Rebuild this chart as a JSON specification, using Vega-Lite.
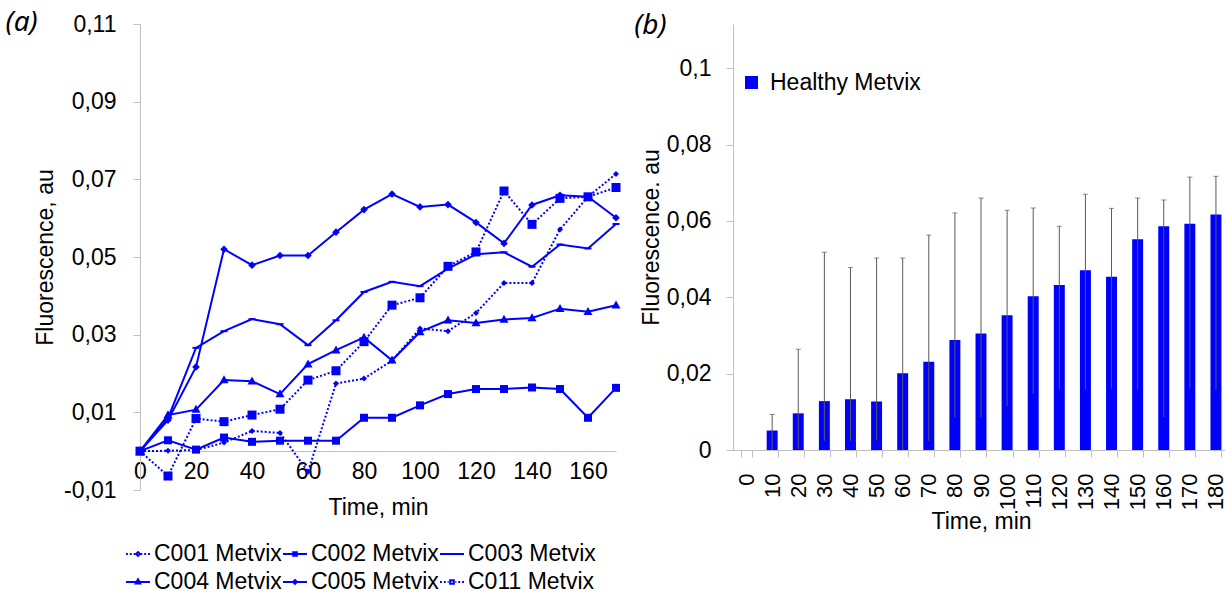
{
  "$schema": "https://vega.github.io/schema/vega-lite/v6.json",
  "padding": {"left": 5, "top": 9, "right": 0, "bottom": 0},
  "bounds": "flush",
  "spacing": 117,
  "datasets": {
    "lines": [
      {"series": "C001 Metvix", "time": 0, "value": 0},
      {"series": "C001 Metvix", "time": 10, "value": 0.0001},
      {"series": "C001 Metvix", "time": 20, "value": 0.0003},
      {"series": "C001 Metvix", "time": 30, "value": 0.0022},
      {"series": "C001 Metvix", "time": 40, "value": 0.0052},
      {"series": "C001 Metvix", "time": 50, "value": 0.0047},
      {"series": "C001 Metvix", "time": 60, "value": -0.0053},
      {"series": "C001 Metvix", "time": 70, "value": 0.0174},
      {"series": "C001 Metvix", "time": 80, "value": 0.0187},
      {"series": "C001 Metvix", "time": 90, "value": 0.0233},
      {"series": "C001 Metvix", "time": 100, "value": 0.0316},
      {"series": "C001 Metvix", "time": 110, "value": 0.0309},
      {"series": "C001 Metvix", "time": 120, "value": 0.0356},
      {"series": "C001 Metvix", "time": 130, "value": 0.0433},
      {"series": "C001 Metvix", "time": 140, "value": 0.0433},
      {"series": "C001 Metvix", "time": 150, "value": 0.0571},
      {"series": "C001 Metvix", "time": 160, "value": 0.0655},
      {"series": "C001 Metvix", "time": 170, "value": 0.0714},
      {"series": "C002 Metvix", "time": 0, "value": 0},
      {"series": "C002 Metvix", "time": 10, "value": 0.0028},
      {"series": "C002 Metvix", "time": 20, "value": 0.0004},
      {"series": "C002 Metvix", "time": 30, "value": 0.0035},
      {"series": "C002 Metvix", "time": 40, "value": 0.0024},
      {"series": "C002 Metvix", "time": 50, "value": 0.0027},
      {"series": "C002 Metvix", "time": 60, "value": 0.0027},
      {"series": "C002 Metvix", "time": 70, "value": 0.0027},
      {"series": "C002 Metvix", "time": 80, "value": 0.0086},
      {"series": "C002 Metvix", "time": 90, "value": 0.0086},
      {"series": "C002 Metvix", "time": 100, "value": 0.0118},
      {"series": "C002 Metvix", "time": 110, "value": 0.0147},
      {"series": "C002 Metvix", "time": 120, "value": 0.016},
      {"series": "C002 Metvix", "time": 130, "value": 0.016},
      {"series": "C002 Metvix", "time": 140, "value": 0.0164},
      {"series": "C002 Metvix", "time": 150, "value": 0.016},
      {"series": "C002 Metvix", "time": 160, "value": 0.0086},
      {"series": "C002 Metvix", "time": 170, "value": 0.0163},
      {"series": "C003 Metvix", "time": 0, "value": 0},
      {"series": "C003 Metvix", "time": 10, "value": 0.0085},
      {"series": "C003 Metvix", "time": 20, "value": 0.0266},
      {"series": "C003 Metvix", "time": 30, "value": 0.0309},
      {"series": "C003 Metvix", "time": 40, "value": 0.034},
      {"series": "C003 Metvix", "time": 50, "value": 0.0327},
      {"series": "C003 Metvix", "time": 60, "value": 0.0273},
      {"series": "C003 Metvix", "time": 70, "value": 0.0337},
      {"series": "C003 Metvix", "time": 80, "value": 0.041},
      {"series": "C003 Metvix", "time": 90, "value": 0.0436},
      {"series": "C003 Metvix", "time": 100, "value": 0.0425},
      {"series": "C003 Metvix", "time": 110, "value": 0.047},
      {"series": "C003 Metvix", "time": 120, "value": 0.0507},
      {"series": "C003 Metvix", "time": 130, "value": 0.0512},
      {"series": "C003 Metvix", "time": 140, "value": 0.0475},
      {"series": "C003 Metvix", "time": 150, "value": 0.0532},
      {"series": "C003 Metvix", "time": 160, "value": 0.0522},
      {"series": "C003 Metvix", "time": 170, "value": 0.0585},
      {"series": "C004 Metvix", "time": 0, "value": 0},
      {"series": "C004 Metvix", "time": 10, "value": 0.0093},
      {"series": "C004 Metvix", "time": 20, "value": 0.0107},
      {"series": "C004 Metvix", "time": 30, "value": 0.0183},
      {"series": "C004 Metvix", "time": 40, "value": 0.018},
      {"series": "C004 Metvix", "time": 50, "value": 0.0147},
      {"series": "C004 Metvix", "time": 60, "value": 0.0224},
      {"series": "C004 Metvix", "time": 70, "value": 0.026},
      {"series": "C004 Metvix", "time": 80, "value": 0.0293},
      {"series": "C004 Metvix", "time": 90, "value": 0.0234},
      {"series": "C004 Metvix", "time": 100, "value": 0.0307},
      {"series": "C004 Metvix", "time": 110, "value": 0.0337},
      {"series": "C004 Metvix", "time": 120, "value": 0.033},
      {"series": "C004 Metvix", "time": 130, "value": 0.0339},
      {"series": "C004 Metvix", "time": 140, "value": 0.0343},
      {"series": "C004 Metvix", "time": 150, "value": 0.0367},
      {"series": "C004 Metvix", "time": 160, "value": 0.0359},
      {"series": "C004 Metvix", "time": 170, "value": 0.0376},
      {"series": "C005 Metvix", "time": 0, "value": 0},
      {"series": "C005 Metvix", "time": 10, "value": 0.008},
      {"series": "C005 Metvix", "time": 20, "value": 0.0217},
      {"series": "C005 Metvix", "time": 30, "value": 0.052},
      {"series": "C005 Metvix", "time": 40, "value": 0.0479},
      {"series": "C005 Metvix", "time": 50, "value": 0.0504},
      {"series": "C005 Metvix", "time": 60, "value": 0.0504},
      {"series": "C005 Metvix", "time": 70, "value": 0.0564},
      {"series": "C005 Metvix", "time": 80, "value": 0.0622},
      {"series": "C005 Metvix", "time": 90, "value": 0.0662},
      {"series": "C005 Metvix", "time": 100, "value": 0.0629},
      {"series": "C005 Metvix", "time": 110, "value": 0.0635},
      {"series": "C005 Metvix", "time": 120, "value": 0.0589},
      {"series": "C005 Metvix", "time": 130, "value": 0.0535},
      {"series": "C005 Metvix", "time": 140, "value": 0.0634},
      {"series": "C005 Metvix", "time": 150, "value": 0.0659},
      {"series": "C005 Metvix", "time": 160, "value": 0.0655},
      {"series": "C005 Metvix", "time": 170, "value": 0.0601},
      {"series": "C011 Metvix", "time": 0, "value": 0},
      {"series": "C011 Metvix", "time": 10, "value": -0.0064},
      {"series": "C011 Metvix", "time": 20, "value": 0.0084},
      {"series": "C011 Metvix", "time": 30, "value": 0.0076},
      {"series": "C011 Metvix", "time": 40, "value": 0.0093},
      {"series": "C011 Metvix", "time": 50, "value": 0.0108},
      {"series": "C011 Metvix", "time": 60, "value": 0.0183},
      {"series": "C011 Metvix", "time": 70, "value": 0.0207},
      {"series": "C011 Metvix", "time": 80, "value": 0.0282},
      {"series": "C011 Metvix", "time": 90, "value": 0.0376},
      {"series": "C011 Metvix", "time": 100, "value": 0.0395},
      {"series": "C011 Metvix", "time": 110, "value": 0.0476},
      {"series": "C011 Metvix", "time": 120, "value": 0.0513},
      {"series": "C011 Metvix", "time": 130, "value": 0.067},
      {"series": "C011 Metvix", "time": 140, "value": 0.0584},
      {"series": "C011 Metvix", "time": 150, "value": 0.0651},
      {"series": "C011 Metvix", "time": 160, "value": 0.0655},
      {"series": "C011 Metvix", "time": 170, "value": 0.0679}
    ],
    "bars": [
      {"time": 0, "mean": 0, "min": null, "max": null},
      {"time": 10, "mean": 0.0051, "min": 0, "max": 0.0093},
      {"time": 20, "mean": 0.0096, "min": 0.0003, "max": 0.0264},
      {"time": 30, "mean": 0.0128, "min": 0.0024, "max": 0.0518},
      {"time": 40, "mean": 0.0133, "min": 0.0024, "max": 0.0478},
      {"time": 50, "mean": 0.0127, "min": 0.0025, "max": 0.0503},
      {"time": 60, "mean": 0.0201, "min": 0, "max": 0.0503},
      {"time": 70, "mean": 0.0231, "min": 0.0024, "max": 0.0563},
      {"time": 80, "mean": 0.0288, "min": 0.0086, "max": 0.0621},
      {"time": 90, "mean": 0.0305, "min": 0.0086, "max": 0.066},
      {"time": 100, "mean": 0.0353, "min": 0.0115, "max": 0.0628},
      {"time": 110, "mean": 0.0403, "min": 0.0147, "max": 0.0634},
      {"time": 120, "mean": 0.0432, "min": 0.0159, "max": 0.0586},
      {"time": 130, "mean": 0.0471, "min": 0.0159, "max": 0.067},
      {"time": 140, "mean": 0.0454, "min": 0.0161, "max": 0.0633},
      {"time": 150, "mean": 0.0552, "min": 0.0159, "max": 0.066},
      {"time": 160, "mean": 0.0586, "min": 0.0086, "max": 0.0655},
      {"time": 170, "mean": 0.0593, "min": 0.0161, "max": 0.0715},
      {"time": 180, "mean": 0.0617, "min": 0.0159, "max": 0.0717}
    ]
  },
  "hconcat": [
    {
      "width": 476,
      "height": 466,
      "title": {"text": "(a)", "anchor": "start", "frame": "bounds", "dx": -29, "dy": 42, "baseline": "middle"},
      "data": {"name": "lines"},
      "encoding": {
        "x": {
          "field": "time", "type": "quantitative",
          "scale": {"domain": [0, 170], "nice": false, "zero": false},
          "axis": {"title": "Time, min", "values": [0, 20, 40, 60, 80, 100, 120, 140, 160], "ticks": false, "offset": -39, "labelPadding": 9, "titlePadding": 13, "labelFlush": false, "labelOverlap": false}
        },
        "y": {
          "field": "value", "type": "quantitative",
          "scale": {"domain": [-0.01, 0.11], "nice": false, "zero": false},
          "axis": {"title": "Fluorescence, au", "values": [-0.01, 0.01, 0.03, 0.05, 0.07, 0.09, 0.11], "labelExpr": "replace(replace(format(datum.value, '.2f'), '.', ','), '\u2212', '-')", "labelPadding": 17, "titlePadding": 6, "labelFlush": false, "labelOverlap": false}
        }
      },
      "layer": [
        {
          "transform": [{"filter": {"field": "series", "oneOf": ["C001 Metvix", "C011 Metvix"]}}],
          "mark": {"type": "line", "color": "#0000ff", "strokeWidth": 2, "strokeDash": [2, 2]},
          "encoding": {"detail": {"field": "series", "type": "nominal"}}
        },
        {
          "transform": [{"filter": {"not": {"field": "series", "oneOf": ["C001 Metvix", "C011 Metvix"]}}}],
          "mark": {"type": "line", "color": "#0000ff", "strokeWidth": 2},
          "encoding": {"detail": {"field": "series", "type": "nominal"}}
        },
        {
          "mark": {"type": "point", "filled": true, "color": "#0000ff", "opacity": 1, "size": 100},
          "encoding": {
            "shape": {
              "field": "series", "type": "nominal",
              "scale": {
                "domain": ["C001 Metvix", "C002 Metvix", "C003 Metvix", "C004 Metvix", "C005 Metvix", "C011 Metvix"],
                "range": ["M0,-0.6L0.6,0L0,0.6L-0.6,0Z", "M-0.8,-0.8H0.8V0.8H-0.8Z", "M-0.7,-0.2H0.7V0.2H-0.7Z", "M0,-0.95L0.9,0.65H-0.9Z", "M0,-0.76L0.76,0L0,0.76L-0.76,0Z", "M-0.9,-0.9H0.9V0.9H-0.9Z"]
              },
              "legend": null
            }
          }
        },
        {
          "mark": {"type": "point", "filled": false, "color": "#0000ff", "strokeWidth": 2, "opacity": 0, "size": 576},
          "encoding": {
            "shape": {
              "field": "series", "type": "nominal",
              "scale": {
                "domain": ["C001 Metvix", "C002 Metvix", "C003 Metvix", "C004 Metvix", "C005 Metvix", "C011 Metvix"],
                "range": [
                  "M-1,0H-0.84M-0.68,0H-0.52M-0.36,0H-0.24M0.24,0H0.36M0.52,0H0.68M0.84,0H1M0,-0.16L0.16,0L0,0.16L-0.16,0Z",
                  "M-1,0H1M-0.15,-0.15H0.15V0.15H-0.15Z",
                  "M-1,0H1",
                  "M-1,0H1M0,-0.22L0.19,0.12H-0.19Z",
                  "M-1,0H1M0,-0.16L0.16,0L0,0.16L-0.16,0Z",
                  "M-1,0H-0.84M-0.68,0H-0.52M-0.36,0H-0.28M0.28,0H0.36M0.52,0H0.68M0.84,0H1M-0.15,-0.15H0.15V0.15H-0.15Z"
                ]
              },
              "legend": {
                "title": null, "orient": "none", "direction": "horizontal", "legendX": -15, "legendY": 517, "columns": 3, "columnPadding": -5, "rowPadding": 3,
                "symbolSize": 576, "symbolStrokeWidth": 2, "symbolStrokeColor": "#0000ff", "symbolFillColor": "transparent", "symbolOpacity": 1,
                "labelFontSize": 23, "labelOffset": 3
              }
            }
          }
        }
      ],
      "resolve": {"scale": {"shape": "independent"}}
    },
    {
      "width": 496,
      "height": 426,
      "title": {"text": "(b)", "anchor": "start", "frame": "bounds", "dx": -6, "dy": 34, "baseline": "middle"},
      "data": {"name": "bars"},
      "encoding": {
        "x": {
          "field": "time", "type": "ordinal",
          "scale": {"paddingInner": 0.58, "paddingOuter": 0.29},
          "axis": {"title": "Time, min", "labelAngle": -90, "tickBand": "extent", "labelPadding": 16, "titlePadding": 1, "labelFontSize": 22}
        }
      },
      "layer": [
        {
          "mark": {"type": "bar", "color": "#0000ff"},
          "encoding": {
            "y": {
              "field": "mean", "type": "quantitative", "title": "Fluorescence. au",
              "scale": {"domain": [0, 0.1116], "nice": false},
              "axis": {"values": [0, 0.02, 0.04, 0.06, 0.08, 0.1], "labelExpr": "replace(format(datum.value, '.2~f'), '.', ',')", "labelPadding": 15, "titlePadding": 3, "labelFlush": false}
            },
            "color": {
              "datum": "Healthy Metvix", "type": "nominal",
              "scale": {"range": ["#0000ff"]},
              "legend": {"title": null, "orient": "none", "legendX": 600, "legendY": 47, "symbolType": "square", "symbolSize": 169, "labelFontSize": 23, "labelOffset": 7}
            }
          }
        },
        {
          "mark": {"type": "rule", "color": "#5a5a5a", "strokeWidth": 1},
          "encoding": {
            "y": {"field": "min", "type": "quantitative", "title": "Fluorescence. au"},
            "y2": {"field": "max"}
          }
        },
        {
          "mark": {"type": "tick", "color": "#5a5a5a", "thickness": 1, "size": 5},
          "encoding": {
            "y": {"field": "max", "type": "quantitative", "title": "Fluorescence. au"}
          }
        }
      ]
    }
  ],
  "config": {
    "font": "Liberation Sans",
    "view": {"stroke": null},
    "axis": {
      "labelFont": "Liberation Sans", "labelFontSize": 23, "labelColor": "#000000",
      "titleFont": "Liberation Sans", "titleFontSize": 23, "titleFontWeight": "normal", "titleColor": "#000000",
      "domainColor": "#c0c0c0", "tickColor": "#c0c0c0", "grid": false, "tickSize": 7
    },
    "legend": {"labelFont": "Liberation Sans", "labelFontSize": 23, "labelColor": "#000000", "padding": 0},
    "title": {"font": "Noto Sans", "fontStyle": "italic", "fontSize": 28, "fontWeight": "normal", "color": "#000000"}
  }
}
